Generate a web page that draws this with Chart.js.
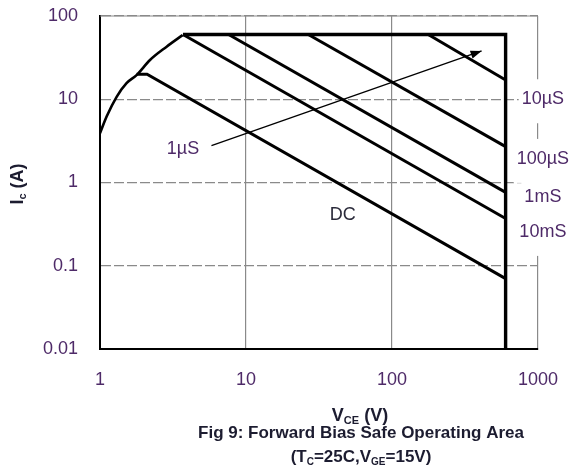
<!DOCTYPE html>
<html>
<head>
<meta charset="utf-8">
<script src="https://cdn.jsdelivr.net/npm/chart.js@4.4.0/dist/chart.umd.min.js"></script>
<style>
  body { margin: 0; background: #fff; }
</style>
</head>
<body>
<canvas id="soaChart" width="571" height="473"></canvas>
<script>
// tick values
const xTicks = [1, 10, 100, 1000];
const yTicks = [0.01, 0.1, 1, 10, 100];

// rising limit curve (Vce, Ic)
const curveV = [1, 1.11, 1.3, 1.52, 1.78, 2.2, 2.86, 3.68];
const curveI = [3.9, 6.2, 10.7, 15.6, 19.5, 29.6, 42.8, 59];

// outer boundary: top current limit then the 600V limit
const boundV = [3.7, 600, 600];
const boundI = [60, 60, 0.01];

// pulse / DC lines
const dcV = [1.78, 2.1, 600];
const dcI = [20, 20, 0.07];
const ms10V = [3.7, 600];
const ms10I = [60, 0.37];
const ms1V = [7.6, 600];
const ms1I = [60, 0.76];
const us100V = [26.7, 600];
const us100I = [60, 2.7];
const us10V = [177, 600];
const us10I = [60, 17];

// arrow pointing to the 1µS boundary
const arrowV = [5.8, 411];
const arrowI = [2.77, 38];

// text labels
const sideLabels = ["10µS", "100µS", "1mS", "10mS"];
const sideLabelI = [10, 1.92, 0.67, 0.255];
const sideLabelV = 1080;

const inLabels = ["1µS", "DC"];
const inLabelV = [3.7, 46];
const inLabelI = [2.53, 0.41];

const textColor = "#4e2a68";
const titleColor = "#1c1c30";

// wanted plot box in the 571x473 page
const target = { left: 100, top: 16, right: 538, bottom: 349 };

function pts(xs, ys) {
    return xs.map((x, i) => ({ x: x, y: ys[i] }));
}

function line(xs, ys, w, smooth) {
    return {
        data: pts(xs, ys),
        showLine: true,
        borderColor: "#000",
        borderWidth: w,
        pointRadius: 0,
        cubicInterpolationMode: smooth ? "monotone" : "default",
        tension: smooth ? 0.4 : 0,
        fill: false
    };
}

// draws text with subscript parts, centred on x
function drawParts(ctx, parts, x, y, size) {
    const big = "bold " + size + "px 'Liberation Sans', Arial, sans-serif";
    const small = "bold " + Math.round(size * 0.6) + "px 'Liberation Sans', Arial, sans-serif";
    let total = 0;
    parts.forEach(p => {
        ctx.font = p.sub ? small : big;
        total += ctx.measureText(p.t).width;
    });
    let cx = x - total / 2;
    ctx.textAlign = "left";
    ctx.textBaseline = "alphabetic";
    parts.forEach(p => {
        ctx.font = p.sub ? small : big;
        ctx.fillText(p.t, cx, p.sub ? y + 3 : y);
        cx += ctx.measureText(p.t).width;
    });
}

const extras = {
    id: "extras",
    afterDraw(chart) {
        const ctx = chart.ctx;
        const xs = chart.scales.x;
        const ys = chart.scales.y;
        const area = chart.chartArea;
        ctx.save();

        // solid grey top edge
        ctx.strokeStyle = "#8a8a8a";
        ctx.lineWidth = 1.2;
        ctx.beginPath();
        ctx.moveTo(area.left, area.top);
        ctx.lineTo(area.right, area.top);
        ctx.stroke();

        // arrow head
        const x0 = xs.getPixelForValue(arrowV[0]), y0 = ys.getPixelForValue(arrowI[0]);
        const x1 = xs.getPixelForValue(arrowV[1]), y1 = ys.getPixelForValue(arrowI[1]);
        const a = Math.atan2(y1 - y0, x1 - x0);
        ctx.fillStyle = "#000";
        ctx.beginPath();
        ctx.moveTo(x1, y1);
        ctx.lineTo(x1 - 11 * Math.cos(a) + 4 * Math.sin(a), y1 - 11 * Math.sin(a) - 4 * Math.cos(a));
        ctx.lineTo(x1 - 11 * Math.cos(a) - 4 * Math.sin(a), y1 - 11 * Math.sin(a) + 4 * Math.cos(a));
        ctx.closePath();
        ctx.fill();

        // labels on the right side
        ctx.font = "18px 'Liberation Sans', Arial, sans-serif";
        ctx.textAlign = "center";
        ctx.textBaseline = "middle";
        sideLabels.forEach((t, i) => {
            const px = xs.getPixelForValue(sideLabelV);
            const py = ys.getPixelForValue(sideLabelI[i]);
            const w = ctx.measureText(t).width;
            ctx.fillStyle = "#fff";
            ctx.fillRect(px - w / 2 - 3, py - 20, w + 6, 44);
            ctx.fillStyle = textColor;
            ctx.fillText(t, px, py);
        });

        // labels inside the plot
        inLabels.forEach((t, i) => {
            const px = xs.getPixelForValue(inLabelV[i]);
            const py = ys.getPixelForValue(inLabelI[i]);
            ctx.fillStyle = i === 1 ? "#2a2a3a" : textColor;
            ctx.fillText(t, px, py);
        });

        // axis titles and caption
        ctx.fillStyle = titleColor;
        drawParts(ctx, [{ t: "V" }, { t: "CE", sub: true }, { t: " (V)" }], 360, 421, 18);
        drawParts(ctx, [{ t: "Fig 9: Forward Bias Safe Operating Area" }], 361, 438, 17);
        drawParts(ctx, [{ t: "(T" }, { t: "C", sub: true }, { t: "=25C,V" }, { t: "GE", sub: true }, { t: "=15V)" }], 361, 462, 17);

        ctx.save();
        ctx.translate(23, 184);
        ctx.rotate(-Math.PI / 2);
        drawParts(ctx, [{ t: "I" }, { t: "c", sub: true }, { t: " (A)" }], 0, 0, 18);
        ctx.restore();

        ctx.restore();
    }
};

const ctx = document.getElementById("soaChart").getContext("2d");
const pad = { left: 0, top: 16, right: 33, bottom: 0 };

const chart = new Chart(ctx, {
    type: "scatter",
    data: {
        datasets: [
            line(curveV, curveI, 2.6, true),
            line(boundV, boundI, 3.4),
            line(dcV, dcI, 3),
            line(ms10V, ms10I, 3),
            line(ms1V, ms1I, 3),
            line(us100V, us100I, 3),
            line(us10V, us10I, 3),
            line(arrowV, arrowI, 1.3)
        ]
    },
    options: {
        responsive: false,
        animation: false,
        devicePixelRatio: 1,
        layout: { padding: pad },
        plugins: {
            legend: { display: false },
            tooltip: { enabled: false }
        },
        scales: {
            x: {
                type: "logarithmic",
                min: 1,
                max: 1000,
                afterBuildTicks: s => { s.ticks = xTicks.map(v => ({ value: v })); },
                afterFit: s => { s.height = 124; s.paddingLeft = 0; s.paddingRight = 0; },
                ticks: {
                    callback: v => String(v),
                    font: { size: 18, family: "'Liberation Sans', Arial, sans-serif" },
                    color: textColor,
                    padding: 20,
                    maxRotation: 0,
                    autoSkip: false
                },
                grid: { color: "#8a8a8a", lineWidth: 1.2, drawTicks: false },
                border: { color: "#000", width: 2 }
            },
            y: {
                type: "logarithmic",
                min: 0.01,
                max: 100,
                afterBuildTicks: s => { s.ticks = yTicks.map(v => ({ value: v })); },
                afterFit: s => { s.width = 100; s.paddingTop = 0; s.paddingBottom = 0; },
                ticks: {
                    callback: v => String(v),
                    font: { size: 18, family: "'Liberation Sans', Arial, sans-serif" },
                    color: textColor,
                    padding: 22,
                    autoSkip: false
                },
                grid: { color: "#8a8a8a", lineWidth: 1.2, drawTicks: false },
                border: { color: "#000", width: 2, dash: [10, 3] }
            }
        }
    },
    plugins: [extras]
});

// nudge the padding so the plot box lands where the reference has it
const area = chart.chartArea;
pad.left += target.left - area.left;
pad.top += target.top - area.top;
pad.right += area.right - target.right;
pad.bottom += area.bottom - target.bottom;
chart.options.layout.padding = pad;
chart.update();
</script>
</body>
</html>
